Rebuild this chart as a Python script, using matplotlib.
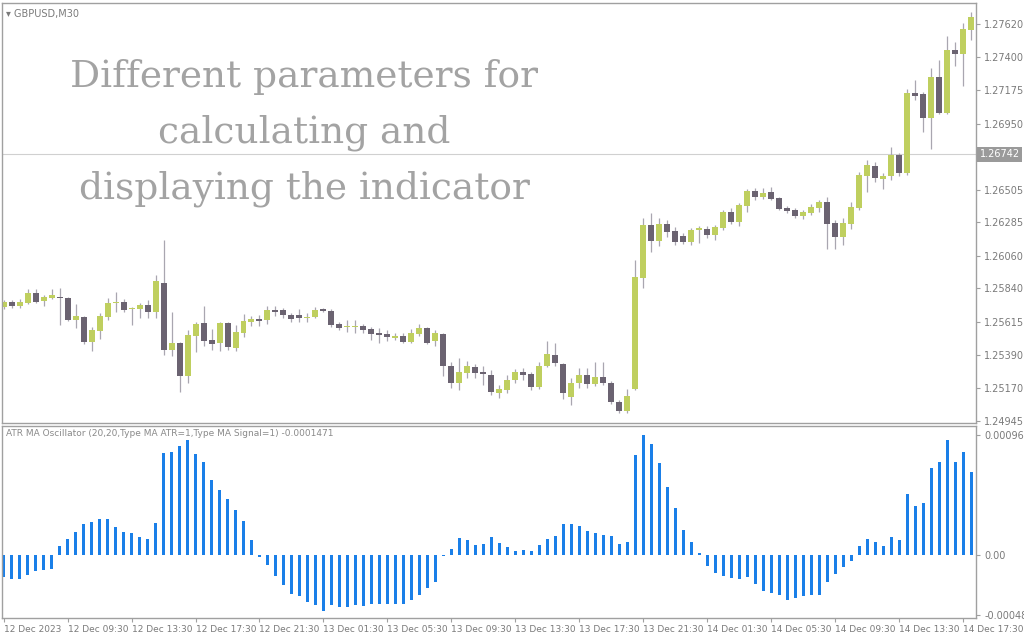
import matplotlib.pyplot as plt
import numpy as np

# ---------------- data (GBPUSD M30) ----------------
opens = [1.25713, 1.25747, 1.25720, 1.25740, 1.25808, 1.25754, 1.25774, 1.25781, 1.25774, 1.25626,
         1.25646, 1.25477, 1.25552, 1.25646, 1.25740, 1.25747, 1.25700, 1.25700, 1.25727, 1.25680,
         1.25875, 1.25424, 1.25471, 1.25248, 1.25518, 1.25606, 1.25491, 1.25471, 1.25606, 1.25437,
         1.25538, 1.25612, 1.25632, 1.25626, 1.25693, 1.25693, 1.25659, 1.25659, 1.25639, 1.25646,
         1.25700, 1.25687, 1.25599, 1.25579, 1.25582, 1.25585, 1.25565, 1.25538, 1.25531, 1.25508,
         1.25518, 1.25477, 1.25531, 1.25572, 1.25484, 1.25531, 1.25316, 1.25201, 1.25269, 1.25309,
         1.25275, 1.25255, 1.25134, 1.25154, 1.25221, 1.25275, 1.25262, 1.25174, 1.25316, 1.25390,
         1.25329, 1.25107, 1.25201, 1.25255, 1.25194, 1.25242, 1.25201, 1.25073, 1.25012, 1.25161,
         1.25909, 1.26266, 1.26158, 1.26273, 1.26226, 1.26192, 1.26151, 1.26232, 1.26239, 1.26199,
         1.26246, 1.26354, 1.26286, 1.26394, 1.26495, 1.26455, 1.26488, 1.26448, 1.26381, 1.26367,
         1.26327, 1.26347, 1.26381, 1.26421, 1.26280, 1.26185, 1.26273, 1.26381, 1.26596, 1.26663,
         1.26576, 1.26596, 1.26738, 1.26616, 1.27156, 1.27149, 1.26987, 1.27264, 1.27021, 1.27446,
         1.27419, 1.27581]
highs = [1.25761, 1.25761, 1.25767, 1.25835, 1.25835, 1.25794, 1.25835, 1.25841, 1.25781, 1.25734,
         1.25653, 1.25579, 1.25673, 1.25774, 1.25814, 1.25767, 1.25713, 1.25740, 1.25761, 1.25929,
         1.26165, 1.25680, 1.25477, 1.25558, 1.25612, 1.25720, 1.25565, 1.25612, 1.25612, 1.25592,
         1.25666, 1.25653, 1.25659, 1.25720, 1.25720, 1.25707, 1.25673, 1.25700, 1.25673, 1.25713,
         1.25707, 1.25700, 1.25612, 1.25626, 1.25626, 1.25599, 1.25579, 1.25572, 1.25558, 1.25538,
         1.25538, 1.25565, 1.25599, 1.25579, 1.25558, 1.25538, 1.25343, 1.25370, 1.25349, 1.25329,
         1.25316, 1.25289, 1.25188, 1.25255, 1.25295, 1.25302, 1.25275, 1.25343, 1.25484, 1.25471,
         1.25336, 1.25235, 1.25302, 1.25302, 1.25343, 1.25343, 1.25215, 1.25087, 1.25161, 1.26030,
         1.26313, 1.26347, 1.26313, 1.26300, 1.26253, 1.26212, 1.26246, 1.26259, 1.26259, 1.26266,
         1.26367, 1.26381, 1.26414, 1.26509, 1.26515, 1.26515, 1.26522, 1.26455, 1.26394, 1.26381,
         1.26367, 1.26408, 1.26435, 1.26455, 1.26300, 1.26313, 1.26421, 1.26623, 1.26704, 1.26690,
         1.26616, 1.26792, 1.26751, 1.27183, 1.27243, 1.27163, 1.27324, 1.27378, 1.27540, 1.27500,
         1.27628, 1.27702]
lows = [1.25700, 1.25707, 1.25707, 1.25734, 1.25740, 1.25720, 1.25767, 1.25592, 1.25619, 1.25572,
        1.25464, 1.25417, 1.25498, 1.25626, 1.25680, 1.25680, 1.25592, 1.25639, 1.25639, 1.25639,
        1.25390, 1.25383, 1.25140, 1.25201, 1.25410, 1.25451, 1.25424, 1.25417, 1.25424, 1.25417,
        1.25511, 1.25585, 1.25585, 1.25599, 1.25653, 1.25639, 1.25612, 1.25612, 1.25612, 1.25639,
        1.25680, 1.25579, 1.25558, 1.25545, 1.25538, 1.25538, 1.25491, 1.25471, 1.25484, 1.25491,
        1.25471, 1.25471, 1.25518, 1.25464, 1.25451, 1.25248, 1.25167, 1.25154, 1.25235, 1.25235,
        1.25188, 1.25120, 1.25100, 1.25134, 1.25201, 1.25221, 1.25154, 1.25161, 1.25309, 1.25316,
        1.25093, 1.25053, 1.25167, 1.25167, 1.25181, 1.25188, 1.25060, 1.24999, 1.24999, 1.25154,
        1.25841, 1.26084, 1.26125, 1.26185, 1.26131, 1.26138, 1.26131, 1.26145, 1.26178, 1.26165,
        1.26232, 1.26273, 1.26259, 1.26354, 1.26435, 1.26442, 1.26435, 1.26367, 1.26347, 1.26313,
        1.26306, 1.26334, 1.26354, 1.26104, 1.26104, 1.26131, 1.26239, 1.26367, 1.26488, 1.26556,
        1.26509, 1.26569, 1.26596, 1.26603, 1.27109, 1.26893, 1.26778, 1.27014, 1.27014, 1.27338,
        1.27203, 1.27513]
closes = [1.25747, 1.25720, 1.25747, 1.25808, 1.25747, 1.25781, 1.25794, 1.25774, 1.25626, 1.25653,
          1.25477, 1.25558, 1.25653, 1.25740, 1.25747, 1.25693, 1.25707, 1.25727, 1.25680, 1.25889,
          1.25424, 1.25471, 1.25248, 1.25525, 1.25599, 1.25484, 1.25464, 1.25606, 1.25444, 1.25545,
          1.25619, 1.25632, 1.25619, 1.25693, 1.25680, 1.25659, 1.25632, 1.25639, 1.25646, 1.25693,
          1.25687, 1.25592, 1.25572, 1.25585, 1.25585, 1.25558, 1.25531, 1.25528, 1.25511, 1.25518,
          1.25477, 1.25538, 1.25572, 1.25471, 1.25538, 1.25316, 1.25201, 1.25275, 1.25316, 1.25269,
          1.25262, 1.25140, 1.25161, 1.25221, 1.25275, 1.25255, 1.25174, 1.25316, 1.25397, 1.25336,
          1.25134, 1.25201, 1.25255, 1.25194, 1.25242, 1.25201, 1.25073, 1.25012, 1.25114, 1.25916,
          1.26266, 1.26158, 1.26273, 1.26219, 1.26151, 1.26151, 1.26232, 1.26246, 1.26199, 1.26253,
          1.26354, 1.26286, 1.26401, 1.26495, 1.26455, 1.26482, 1.26442, 1.26374, 1.26361, 1.26327,
          1.26354, 1.26388, 1.26421, 1.26273, 1.26185, 1.26280, 1.26388, 1.26603, 1.26670, 1.26583,
          1.26596, 1.26738, 1.26616, 1.27156, 1.27136, 1.26987, 1.27264, 1.27021, 1.27446, 1.27419,
          1.27587, 1.27668]

# ATR MA oscillator values, units of 1e-5
osc = [-17.5, -19.4, -19.4, -16.2, -12.9, -12.1, -11.3, 7.5, 12.9, 18.6,
       25.0, 26.7, 29.1, 29.1, 22.6, 18.6, 17.8, 14.5, 12.9, 25.9,
       82.4, 83.2, 88.1, 92.9, 81.6, 75.1, 60.6, 52.5, 45.2, 36.4,
       27.5, 12.1, -1.3, -8.1, -17.0, -24.2, -31.5, -33.1, -38.0, -40.4,
       -45.2, -40.4, -42.0, -42.0, -40.4, -41.2, -39.6, -39.6, -39.6, -39.6,
       -39.6, -36.4, -32.3, -26.7, -21.8, -0.5, 4.8, 13.7, 12.1, 8.1,
       8.9, 14.5, 9.7, 6.5,
       3.2, 4.0, 3.2, 8.1, 12.9, 15.4, 25.0, 25.0, 23.4, 19.4,
       17.8, 16.2, 15.4, 8.9, 10.5, 80.8, 96.9, 89.7, 74.3, 54.9,
       38.0, 20.2, 10.5, 1.6, -8.9, -14.5, -17.0, -18.6, -19.4, -17.8,
       -23.4, -29.1, -30.7, -32.3, -36.4, -34.7, -33.1, -32.3, -32.3, -21.8,
       -15.4, -9.7, -4.8, 7.3, 12.9, 10.5, 7.3, 14.5, 12.1, 49.3,
       39.6, 42.0, 70.3, 75.1, 92.9, 75.1, 83.2, 67.1]

time_labels = ['12 Dec 2023', '12 Dec 09:30', '12 Dec 13:30', '12 Dec 17:30', '12 Dec 21:30',
               '13 Dec 01:30', '13 Dec 05:30', '13 Dec 09:30', '13 Dec 13:30', '13 Dec 17:30',
               '13 Dec 21:30', '14 Dec 01:30', '14 Dec 05:30', '14 Dec 09:30', '14 Dec 13:30',
               '14 Dec 17:30']
price_ticks = [1.24945, 1.25170, 1.25390, 1.25615, 1.25840, 1.26060, 1.26285, 1.26505,
               1.26950, 1.27175, 1.27400, 1.27620]
current_price = 1.26742

# ---------------- styles ----------------
BULL = '#bfcf5f'
BEAR = '#6b6371'
WICK = '#a9a6b0'
BLUE = '#1a7fe8'
AXC = '#a0a0a0'
TXT = '#7a7a7a'

o = np.array(opens); h = np.array(highs); l = np.array(lows); c = np.array(closes)
x = np.arange(len(o))
osc_v = np.array(osc) * 1e-5

fig = plt.figure(figsize=(10.24, 6.4), dpi=100)
ax = fig.add_axes([2 / 1024, 217 / 640, 974 / 1024, 420 / 640])
ax2 = fig.add_axes([2 / 1024, 22 / 640, 974 / 1024, 192 / 640])

for a in (ax, ax2):
    a.set_xlim(-0.2, 121.6)
    for s in a.spines.values():
        s.set_color(AXC)
        s.set_linewidth(1)
    a.yaxis.tick_right()
    a.tick_params(axis='y', colors=AXC, labelcolor=TXT, labelsize=7, length=3, pad=3)

# candles
up = c >= o
ax.vlines(x, l, h, color=WICK, linewidth=0.9, zorder=1)
body_lo = np.minimum(o, c)
body_h = np.maximum(np.abs(c - o), 0.00003)
ax.bar(x[up], body_h[up], bottom=body_lo[up], width=0.75, color=BULL, zorder=2)
ax.bar(x[~up], body_h[~up], bottom=body_lo[~up], width=0.75, color=BEAR, zorder=2)

ax.set_ylim(1.24932, 1.27762)
ax.set_yticks(price_ticks)
ax.set_yticklabels([f'{p:.5f}' for p in price_ticks])
ax.set_xticks([])
ax.axhline(current_price, color='#d0d0d0', linewidth=0.8, zorder=0)
ax.text(1.004, current_price, f'{current_price:.5f}', transform=ax.get_yaxis_transform(),
        fontsize=7, color='white', va='center', ha='left',
        bbox=dict(boxstyle='square,pad=0.25', fc='#9a9a9a', ec='none'))
ax.text(0.004, 0.985, '\u25be GBPUSD,M30', transform=ax.transAxes, fontsize=7,
        color=TXT, va='top', ha='left')

ax.text(302 / 974, 0.69,
        'Different parameters for\ncalculating and\ndisplaying the indicator',
        transform=ax.transAxes, ha='center', va='center', fontsize=27,
        family='DejaVu Serif', color='#a3a3a3', linespacing=1.7)

# oscillator
ax2.bar(x, osc_v, width=0.4, color=BLUE, zorder=2)
ax2.set_ylim(-0.000509, 0.001042)
ax2.set_yticks([0.0009694, 0.0, -0.000481])
ax2.set_yticklabels(['0.0009694', '0.00', '-0.000481'])
ax2.set_xticks(np.arange(0, len(time_labels) * 8, 8))
ax2.set_xticklabels(time_labels, ha='left')
ax2.tick_params(axis='x', colors=AXC, labelcolor=TXT, labelsize=6.5, length=3, pad=2)
ax2.text(0.004, 0.985,
         'ATR MA Oscillator (20,20,Type MA ATR=1,Type MA Signal=1) -0.0001471',
         transform=ax2.transAxes, fontsize=6.5, color='#8a8a8a', va='top', ha='left')

plt.savefig('out.png', dpi=100)
